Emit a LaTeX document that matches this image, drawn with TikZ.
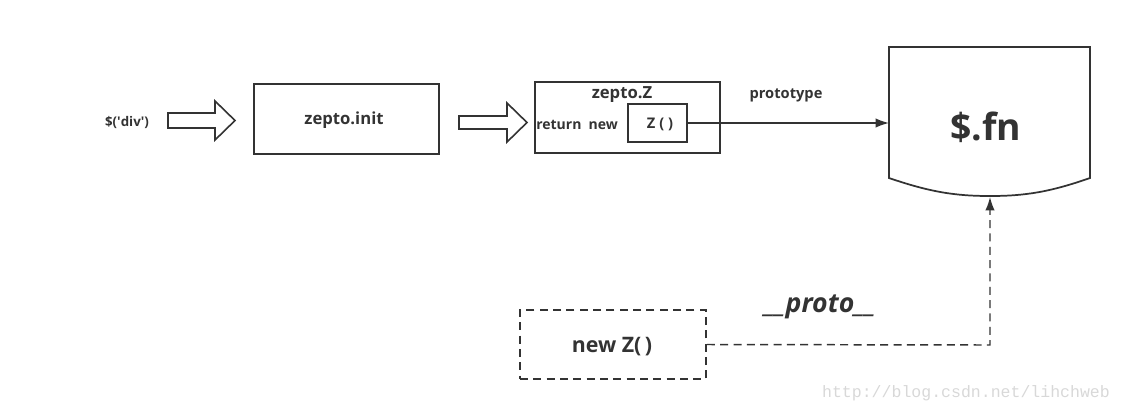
\documentclass[tikz,border=0pt]{standalone}
\usepackage{fontspec}
\setmainfont{Open Sans}
\setmonofont{Liberation Mono}
\usetikzlibrary{arrows.meta}
\definecolor{ink}{HTML}{333333}
\definecolor{wm}{HTML}{D8D8D8}
\tikzset{
  box/.style={draw=ink, line width=1.4pt, inner sep=0pt},
  lbl/.style={text=ink, font=\bfseries, inner sep=0pt},
  hollow/.style={draw=ink, line width=1.2pt, fill=white, line join=miter},
  conn/.style={draw=ink, line width=1.1pt, -{Latex[length=10pt,width=7pt]}},
  dconn/.style={draw=ink, line width=1.1pt, dash pattern=on 6pt off 4pt, -{Latex[length=10pt,width=7pt]}},
}
\begin{document}
\begin{tikzpicture}[x=0.75pt,y=-0.75pt]
\useasboundingbox (0,0) rectangle (1122,412);
% text $('div')
\node[lbl, font=\bfseries\fontsize{10}{12}\selectfont] (div) at (127,122) {\$(\textquotesingle div\textquotesingle)};
% hollow arrow 1
\draw[hollow] (168,113) -- (215,113) -- (215,101) -- (235,120.5) -- (215,140) -- (215,128) -- (168,128) -- cycle;
% zepto.init
\node[box, minimum width=185*0.75pt, minimum height=70*0.75pt] (init) at (346.5,119) {};
\node[lbl, font=\bfseries\fontsize{12.5}{14}\selectfont] at (344,120.5) {zepto.init};
% hollow arrow 2
\draw[hollow] (459,116) -- (507,116) -- (507,103) -- (527,122.5) -- (507,142) -- (507,129) -- (459,129) -- cycle;
% zepto.Z
\node[box, minimum width=185*0.75pt, minimum height=71*0.75pt] (zz) at (627.5,117.5) {};
\node[lbl, font=\bfseries\fontsize{12.5}{14}\selectfont] (zzt) at (622,95) {zepto.Z};
\node[lbl, font=\bfseries\fontsize{10.5}{12}\selectfont, anchor=west] (ret) at (536,125) {return\ \ new};
\node[box, line width=1.2pt, minimum width=59*0.75pt, minimum height=38*0.75pt] (zf) at (657.5,123) {};
\node[lbl, font=\bfseries\fontsize{11}{12}\selectfont] at (660,124) {Z\ (\ )};
% $.fn shape
\coordinate (fnl) at (889,123);
\coordinate (fnb) at (990,197);
\draw[ink, line width=1.3pt] (889,47) -- (1090,47) -- (1090,178)
  .. controls (1050,192) and (1025,196) .. (990,196)
  .. controls (955,196) and (930,192) .. (889,178) -- cycle;
\node[lbl, font=\bfseries\fontsize{28}{32}\selectfont] (fn) at (986,127) {\$.fn};
% prototype arrow
\draw[conn] (zf.east) -- (fnl);
\node[lbl, font=\bfseries\fontsize{11}{12}\selectfont] (proto) at (786,95) {prototype};
% new Z()
\node[box, line width=1.3pt, dash pattern=on 6pt off 4pt, minimum width=186*0.75pt, minimum height=69*0.75pt] (nz) at (613,344.5) {};
\node[lbl, font=\bfseries\fontsize{16}{18}\selectfont] at (612,347) {new Z(\,)};
\draw[dconn] (nz.east) -- (990,345) -- (fnb);
\node[lbl, font=\bfseries\itshape\fontsize{20}{22}\selectfont] (pp) at (820,307) {\_\_proto\_\_};
% watermark
\node[text=wm, font=\ttfamily\fontsize{12.4}{14}\selectfont, inner sep=0pt] (wmk) at (966,393) {http://blog.csdn.net/lihchweb};
\end{tikzpicture}
\end{document}
